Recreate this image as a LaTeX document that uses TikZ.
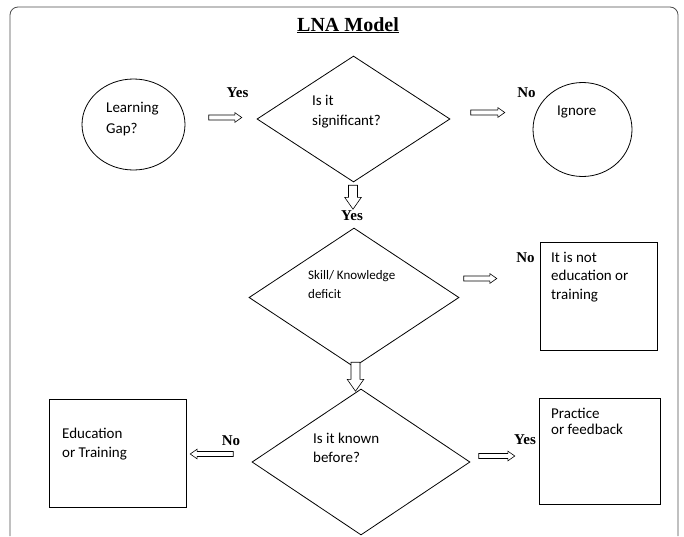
\documentclass[tikz,border=0pt]{standalone}
\usepackage{fontspec}
\setmainfont{Liberation Serif}
\newfontfamily\calib{Carlito}
\usepackage{tikz}
\usetikzlibrary{arrows,shapes}
\tikzstyle{gap}=[ellipse, draw
,line width=0.8pt
,inner sep=0pt
]
\tikzstyle{decision}=[diamond, draw, line width=0.8pt, inner sep=0pt]
\tikzstyle{outcome}=[rectangle, draw, line width=0.8pt, inner sep=0pt]
\tikzstyle{txt}=[align=left, anchor=base west, inner sep=0pt, font=\calib\fontsize{15}{19}\selectfont]
\tikzstyle{answer}=[anchor=base, inner sep=0pt, font=\bfseries\fontsize{15}{18}\selectfont]
\tikzstyle{harrow}=[single arrow, draw, fill=white, line width=0.6pt
,minimum width=9pt, minimum height=34pt
,inner sep=2.2pt, single arrow head extend=2.3pt, single arrow tip angle=70
]
\tikzstyle{varrow}=[harrow, shape border rotate=270
,minimum width=16pt, minimum height=25pt
,inner sep=4.2pt, single arrow head extend=3.8pt
]

\begin{document}
\begin{tikzpicture}[x=1pt,y=-1pt]
    \useasboundingbox (0,0) rectangle (684,536);
    % Frame and title
    \draw[black!70, line width=0.8pt, rounded corners=8pt] (10,536) -- (10,7) -- (678,7) -- (678,536);
    \node[anchor=base, inner sep=0pt, font=\bfseries\fontsize{20}{24}\selectfont] (T) at (348,31) {\underline{LNA Model}};

    % First the shapes
    \node[gap, minimum width=103pt, minimum height=91pt] (S_1) at (133.5,124.5) {};
    \node[gap, minimum width=99pt, minimum height=94pt] (E_1) at (582.5,129.5) {};
    \node[decision, minimum width=193pt, minimum height=126pt] (Q_1) at (353.5,119) {};
    \node[decision, minimum width=210pt, minimum height=139pt] (Q_2) at (354,297.5) {};
    \node[decision, minimum width=218pt, minimum height=146pt] (Q_3) at (361,462) {};
    \node[outcome, minimum width=117pt, minimum height=108pt] (E_2) at (598.5,296) {};
    \node[outcome, minimum width=137pt, minimum height=108pt] (E_3) at (117.5,453) {};
    \node[outcome, minimum width=121pt, minimum height=106pt] (E_4) at (599.5,451) {};

    % Texts in the shapes (placed at the baseline of their last line)
    \node[txt, font=\calib\fontsize{15}{21}\selectfont] (S_1t) at (106,133) {Learning\\Gap?};
    \node[txt, font=\calib\fontsize{15}{20}\selectfont] (Q_1t) at (312,125) {Is it\\significant?};
    \node[txt] (E_1t) at (557,115) {Ignore};
    \node[txt, font=\calib\fontsize{13}{19}\selectfont] (Q_2t) at (308,298) {Skill/ Knowledge\\deficit};
    \node[txt, font=\calib\fontsize{15}{18.5}\selectfont] (E_2t) at (551,299) {It is not\\education or\\training};
    \node[txt] (Q_3t) at (313,462) {Is it known\\before?};
    \node[txt] (E_3t) at (62,457) {Education\\or Training};
    \node[txt, font=\calib\fontsize{15}{16}\selectfont] (E_4t) at (551,434) {Practice\\or feedback};

    % Block arrows between the shapes
    \node[harrow, minimum height=33pt] (A_1) at (223.5,117.5) {};
    \node[harrow] (A_2) at (486,112.5) {};
    \node[varrow, minimum height=24pt] (A_3) at (353,194) {};
    \node[harrow, minimum height=33pt] (A_4) at (478.5,278.5) {};
    \node[varrow, minimum height=29pt] (A_5) at (355.5,373.5) {};
    \node[harrow, shape border rotate=180, minimum height=43pt] (A_6) at (213.5,454) {};
    \node[harrow, minimum height=36pt] (A_7) at (495,456) {};

    % Answers
    \foreach \pos/\name/\ans in {{(237.5,97)/Y_1/Yes}, {(526.5,97)/N_1/No}, {(352,220)/Y_2/Yes},
                                 {(525.5,262)/N_2/No}, {(231,445)/N_3/No}, {(525,444)/Y_3/Yes}}
        \node[answer] (\name) at \pos {\ans};
\end{tikzpicture}
\end{document}
